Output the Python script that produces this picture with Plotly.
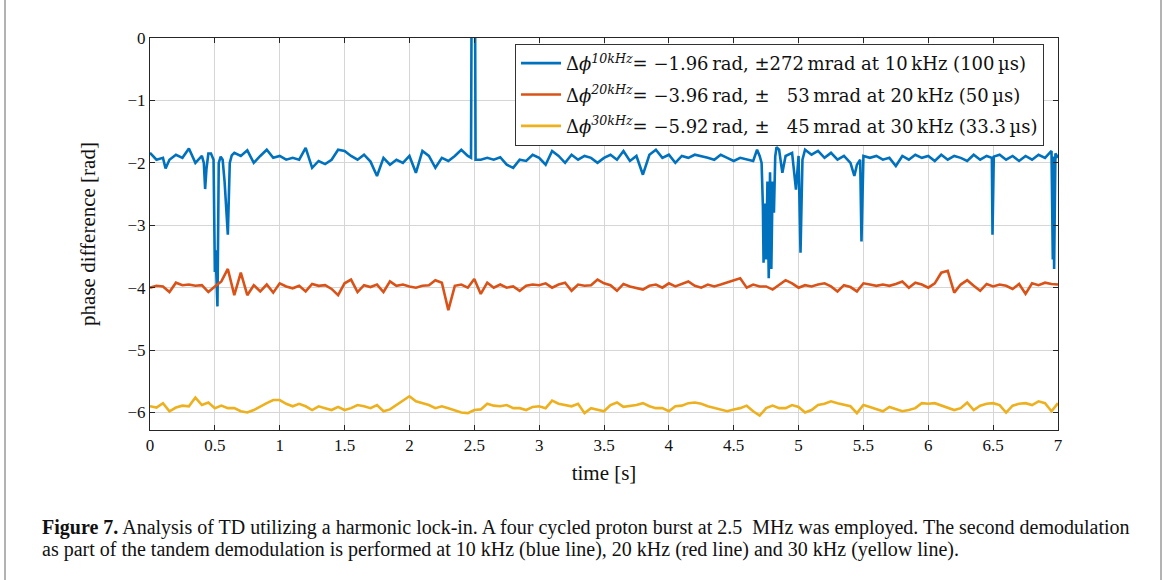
import numpy as np
import plotly.graph_objects as go

# ---- data -----------------------------------------------------------------
# common time grid for the 20 kHz and 30 kHz traces (s)
t_grid = np.round(np.arange(0, 7.0001, 0.05), 3)

phi_20k = [
    -4.00, -3.97, -3.98, -4.07, -3.92, -3.96, -3.95, -3.97, -3.96, -4.07,
    -3.98, -3.90, -3.70, -4.12, -3.76, -4.12, -3.96, -4.06, -3.95, -4.08,
    -3.93, -3.98, -4.01, -3.97, -4.06, -3.94, -3.97, -3.96, -4.02, -4.12,
    -3.93, -3.87, -4.07, -3.96, -3.99, -3.95, -4.07, -3.90, -3.97, -3.95,
    -3.98, -4.00, -3.97, -3.96, -3.88, -3.92, -4.36, -3.97, -3.95, -4.00,
    -3.86, -4.10, -3.92, -4.00, -3.95, -4.00, -3.98, -4.05, -3.97, -3.95,
    -3.96, -3.93, -4.00, -3.95, -3.92, -4.05, -3.95, -3.97, -3.96, -3.87,
    -3.93, -3.96, -4.05, -3.94, -3.98, -4.00, -4.03, -3.97, -3.95, -4.00,
    -3.93, -3.98, -3.94, -3.90, -3.97, -4.00, -3.95, -3.98, -3.95, -3.92,
    -3.88, -3.85, -4.00, -3.95, -3.98, -3.98, -4.03, -3.95, -3.88, -3.93,
    -4.00, -3.96, -3.98, -3.95, -3.93, -3.98, -4.06, -3.96, -3.99, -4.06,
    -3.93, -3.95, -3.97, -3.95, -3.97, -3.94, -3.90, -4.00, -3.92, -3.95,
    -4.00, -3.93, -3.76, -3.73, -4.08, -3.95, -3.88, -3.97, -4.05, -3.94,
    -3.98, -3.95, -3.97, -4.02, -3.94, -4.10, -3.93, -3.96, -3.92, -3.94,
    -3.95,
]

phi_30k = [
    -5.90, -5.92, -5.85, -5.98, -5.92, -5.89, -5.90, -5.76, -5.88, -5.84,
    -5.93, -5.89, -5.93, -5.93, -5.98, -6.00, -5.96, -5.90, -5.85, -5.80,
    -5.80, -5.86, -5.90, -5.86, -5.90, -5.96, -5.90, -5.93, -5.96, -5.91,
    -5.96, -5.93, -5.88, -5.90, -5.93, -5.88, -5.98, -5.95, -5.88, -5.82,
    -5.74, -5.82, -5.85, -5.88, -5.93, -5.90, -5.93, -5.96, -6.00, -6.01,
    -5.96, -5.95, -5.86, -5.89, -5.90, -5.88, -5.93, -5.93, -5.96, -5.91,
    -5.90, -5.93, -5.81, -5.86, -5.88, -5.90, -5.86, -6.01, -5.93, -5.95,
    -5.98, -5.88, -5.84, -5.91, -5.90, -5.88, -5.85, -5.90, -5.93, -5.93,
    -5.98, -5.90, -5.89, -5.85, -5.84, -5.86, -5.90, -5.93, -5.96, -5.98,
    -5.95, -5.93, -5.89, -5.98, -6.05, -5.93, -5.89, -5.93, -5.93, -5.88,
    -5.91, -6.00, -5.96, -5.88, -5.86, -5.82, -5.85, -5.88, -5.90, -6.01,
    -5.88, -5.91, -5.95, -5.98, -5.91, -5.95, -5.98, -5.96, -5.93, -5.85,
    -5.86, -5.85, -5.89, -5.93, -5.96, -5.93, -5.84, -5.96, -5.89, -5.86,
    -5.85, -5.88, -6.00, -5.89, -5.86, -5.85, -5.88, -5.82, -5.85, -5.98,
    -5.85,
]

# 10 kHz trace: irregular sampling around the phase-slip glitches
t_10k = [
    0.00, 0.05, 0.10, 0.12, 0.15, 0.20, 0.25, 0.30, 0.35, 0.40,
    0.415, 0.425, 0.435, 0.45, 0.47, 0.49, 0.50, 0.505, 0.52, 0.53,
    0.545, 0.56, 0.575, 0.60, 0.615, 0.63, 0.65, 0.70, 0.75, 0.80,
    0.85, 0.90, 0.95, 1.00, 1.05, 1.10, 1.15, 1.20, 1.25, 1.30,
    1.35, 1.40, 1.45, 1.50, 1.55, 1.60, 1.65, 1.70, 1.75, 1.80,
    1.85, 1.90, 1.95, 2.00, 2.05, 2.10, 2.15, 2.20, 2.25, 2.30,
    2.35, 2.40, 2.45, 2.475, 2.48, 2.505, 2.51, 2.55, 2.60, 2.65,
    2.70, 2.75, 2.80, 2.85, 2.90, 2.95, 3.00, 3.05, 3.10, 3.15,
    3.20, 3.25, 3.30, 3.35, 3.40, 3.45, 3.50, 3.55, 3.60, 3.65,
    3.70, 3.75, 3.80, 3.85, 3.90, 3.95, 4.00, 4.05, 4.10, 4.15,
    4.20, 4.25, 4.30, 4.35, 4.40, 4.45, 4.50, 4.55, 4.60, 4.65,
    4.68, 4.70, 4.715, 4.725, 4.73, 4.74, 4.75, 4.76, 4.77, 4.78,
    4.79, 4.80, 4.81, 4.82, 4.83, 4.85, 4.875, 4.90, 4.95, 4.98,
    5.00, 5.015, 5.03, 5.05, 5.10, 5.15, 5.20, 5.25, 5.30, 5.35,
    5.40, 5.43, 5.45, 5.475, 5.485, 5.495, 5.50, 5.55, 5.60, 5.65,
    5.70, 5.75, 5.80, 5.85, 5.90, 5.95, 6.00, 6.05, 6.10, 6.15,
    6.20, 6.25, 6.30, 6.35, 6.40, 6.45, 6.49, 6.495, 6.505, 6.55,
    6.60, 6.65, 6.70, 6.75, 6.80, 6.85, 6.90, 6.95, 6.96, 6.965,
    6.97, 6.98, 7.00,
]

phi_10k = [
    -1.84, -1.95, -1.92, -2.09, -1.95, -1.87, -1.92, -1.77, -2.00, -1.89,
    -2.00, -2.42, -2.10, -1.85, -1.85, -1.95, -3.75, -3.40, -4.30, -2.00,
    -1.90, -1.95, -2.30, -3.15, -2.00, -1.88, -1.84, -1.89, -1.80, -2.00,
    -1.89, -1.79, -1.92, -1.89, -1.95, -1.92, -1.95, -1.76, -2.08, -1.97,
    -2.02, -1.95, -1.79, -1.81, -1.89, -1.95, -1.87, -1.98, -2.21, -1.92,
    -2.03, -1.95, -2.00, -1.89, -2.16, -1.81, -1.89, -2.08, -1.92, -1.97,
    -1.89, -1.79, -1.89, -1.92, 1.00, 1.00, -1.95, -1.95, -1.92, -1.95,
    -1.91, -2.03, -2.08, -1.95, -1.97, -1.87, -1.92, -2.03, -1.81, -1.89,
    -2.00, -1.87, -1.95, -1.89, -1.92, -2.00, -1.92, -1.87, -1.95, -1.81,
    -1.97, -1.89, -2.19, -1.87, -1.79, -1.92, -1.87, -2.00, -1.89, -1.92,
    -1.87, -1.89, -1.92, -1.95, -1.87, -1.92, -1.97, -1.92, -1.95, -1.97,
    -1.79, -1.89, -2.00, -2.70, -3.60, -2.65, -3.55, -2.30, -3.85, -2.15,
    -3.70, -2.30, -2.80, -1.90, -1.75, -1.79, -2.16, -1.89, -1.84, -2.43,
    -1.89, -3.44, -1.95, -1.79, -1.87, -1.81, -1.92, -1.84, -1.95, -1.89,
    -2.00, -2.21, -2.03, -1.95, -3.26, -1.95, -1.89, -1.92, -1.89, -1.95,
    -1.92, -2.05, -1.89, -1.95, -1.87, -1.92, -1.89, -1.97, -1.87, -1.95,
    -1.89, -1.92, -1.97, -1.87, -1.95, -1.89, -1.92, -3.15, -1.90, -1.87,
    -1.95, -1.89, -1.97, -1.89, -1.95, -1.87, -1.92, -1.81, -3.55, -1.90,
    -3.70, -1.85, -1.92,
]

x_ticks = [0, 0.5, 1, 1.5, 2, 2.5, 3, 3.5, 4, 4.5, 5, 5.5, 6, 6.5, 7]
x_tick_text = ["0", "0.5", "1", "1.5", "2", "2.5", "3", "3.5", "4", "4.5",
               "5", "5.5", "6", "6.5", "7"]
y_ticks = [0, -1, -2, -3, -4, -5, -6]
y_tick_text = ["0", "\u22121", "\u22122", "\u22123", "\u22124", "\u22125", "\u22126"]

legend_names = [
    "\u0394<i>\u03d5</i><sup><i>10kHz</i></sup>= \u22121.96\u2009rad, \u00b1272\u2009mrad at 10\u2009kHz (100\u2009\u00b5s)",
    "\u0394<i>\u03d5</i><sup><i>20kHz</i></sup>= \u22123.96\u2009rad, \u00b1 \u200753\u2009mrad at 20\u2009kHz (50\u2009\u00b5s)",
    "\u0394<i>\u03d5</i><sup><i>30kHz</i></sup>= \u22125.92\u2009rad, \u00b1 \u200745\u2009mrad at 30\u2009kHz (33.3\u2009\u00b5s)",
]
line_colors = ["#0072BD", "#D95319", "#EDB120"]

caption_1 = ("<b>Figure 7.</b> Analysis of TD utilizing a harmonic lock-in. A four cycled proton "
             "burst at 2.5  MHz was employed. The second demodulation")
caption_2 = ("as part of the tandem demodulation is performed at 10 kHz (blue line), "
             "20 kHz (red line) and 30 kHz (yellow line).")

# ---- figure ---------------------------------------------------------------
SERIF = "Liberation Serif"
WIDE_SERIF = "DejaVu Serif"
fig = go.Figure()
for i, (t, y, name, col) in enumerate([
    (t_10k, phi_10k, legend_names[0], line_colors[0]),
    (t_grid, phi_20k, legend_names[1], line_colors[1]),
    (t_grid, phi_30k, legend_names[2], line_colors[2]),
]):
    fig.add_trace(go.Scatter(x=t, y=y, mode="lines", name=name, legendgroup=f"g{i}",
                             line=dict(color=col, width=2.6)))

axis_common = dict(
    showgrid=True, gridcolor="#d6d6d6", gridwidth=1,
    showline=True, linecolor="#262626", linewidth=1, mirror="ticks",
    ticks="inside", ticklen=5, tickcolor="#262626",
    zeroline=False, tickfont=dict(family=SERIF, size=17, color="#111"),
)
fig.update_xaxes(range=[0, 7], tickmode="array", tickvals=x_ticks,
                 ticktext=x_tick_text,
                 title=dict(text="time [s]", font=dict(family=SERIF, size=21, color="#111"),
                            standoff=10),
                 **axis_common)
fig.update_yaxes(range=[-6.28, 0], tickmode="array", tickvals=y_ticks,
                 ticktext=y_tick_text,
                 title=dict(text="phase difference [rad]",
                            font=dict(family=SERIF, size=21, color="#111"), standoff=26),
                 **axis_common)

fig.update_layout(
    width=1168, height=580,
    margin=dict(l=150, r=110, t=38, b=150),
    paper_bgcolor="white", plot_bgcolor="white",
    font=dict(family=SERIF, color="#111"),
    showlegend=True,
    legend=dict(x=0.402, y=0.985, xanchor="left", yanchor="top",
                bgcolor="white", bordercolor="#333", borderwidth=1,
                font=dict(family=WIDE_SERIF, size=18, color="#111"),
                tracegroupgap=5, itemwidth=40),
)

# page frame around figure and caption (top edge lies above the page)
fig.add_shape(type="rect", xref="paper", yref="paper",
              x0=(5 - 150) / 908, x1=(1161 - 150) / 908,
              y0=-(600 - 38) / 392 + 1, y1=1 + 60 / 392,
              line=dict(color="#9a9a9a", width=1.5), fillcolor="rgba(0,0,0,0)", layer="below")

for txt, ypx in [(caption_1, 527), (caption_2, 549)]:
    fig.add_annotation(text=txt, xref="paper", yref="paper",
                       x=(40 - 150) / 908, y=1 - (ypx - 38) / 392,
                       xanchor="left", yanchor="middle", showarrow=False,
                       font=dict(family=SERIF, size=20, color="#111"))

fig.write_html("out.html")
